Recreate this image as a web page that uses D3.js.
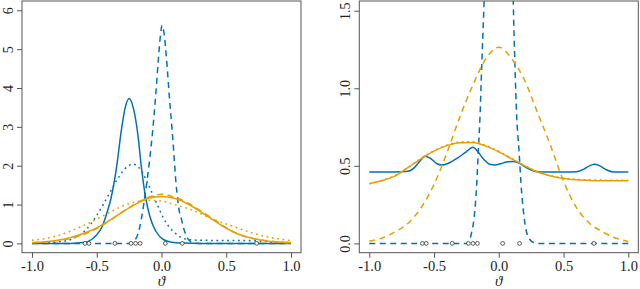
<!DOCTYPE html>
<html>
<head>
<meta charset="utf-8">
<script src="https://cdn.jsdelivr.net/npm/d3@7"></script>
<style>
  body { margin: 0; background: #fff; }
  svg { display: block; }
  svg text { font-family: "Liberation Serif", "DejaVu Serif", serif !important; fill: #222; }
</style>
</head>
<body>
<div id="chart"></div>
<script>
(function(){
// observed data points (rug at zero)
const obs = [-0.59, -0.56, -0.36, -0.235, -0.20, -0.165, 0.03, 0.16, 0.735];

// common grid for the smooth orange curves
const grid = [-1, -0.9, -0.8, -0.7, -0.6, -0.5, -0.4, -0.3, -0.2, -0.1, 0,
              0.1, 0.2, 0.3, 0.4, 0.5, 0.6, 0.7, 0.8, 0.9, 1];

// left panel
const leftOrangeSolid  = [0.02, 0.04, 0.08, 0.15, 0.26, 0.40, 0.59, 0.81, 1.01, 1.16, 1.21,
                          1.16, 1.02, 0.82, 0.60, 0.39, 0.23, 0.13, 0.07, 0.035, 0.015];
const orangeDashed     = [0.015, 0.035, 0.075, 0.13, 0.23, 0.38, 0.585, 0.817, 1.02, 1.19, 1.265,
                          1.19, 1.05, 0.84, 0.63, 0.40, 0.23, 0.13, 0.075, 0.035, 0.013];
const leftOrangeDotted = [0.08, 0.12, 0.2, 0.32, 0.46, 0.62, 0.8, 0.96, 1.07, 1.11, 1.09,
                          1.0, 0.9, 0.77, 0.62, 0.5, 0.38, 0.27, 0.18, 0.12, 0.07];

const leftBlueSolidX = [-1, -0.7, -0.6, -0.54, -0.5, -0.457, -0.42, -0.392, -0.346, -0.313, -0.28, -0.249,
                        -0.215, -0.184, -0.156, -0.12, -0.09, -0.063, -0.02, 0.014, 0.08, 0.15, 0.3, 1];
const leftBlueSolidY = [0, 0, 0.02, 0.1, 0.22, 0.44, 0.8, 1.13, 1.98, 2.84, 3.5, 3.73,
                        3.45, 2.84, 1.98, 1.13, 0.7, 0.44, 0.2, 0.1, 0.03, 0.01, 0, 0];

const leftBlueDottedX = [-1, -0.9, -0.8, -0.7, -0.65, -0.6, -0.55, -0.5, -0.45, -0.4, -0.35, -0.3, -0.25, -0.22,
                         -0.18, -0.14, -0.1, -0.06, -0.02, 0.02, 0.06, 0.1, 0.15, 0.2, 0.3, 0.5, 0.7, 0.8, 0.9, 1];
const leftBlueDottedY = [0.005, 0.01, 0.04, 0.1, 0.18, 0.3, 0.48, 0.72, 1.0, 1.3, 1.6, 1.85, 2.01, 2.04,
                         1.97, 1.78, 1.5, 1.2, 0.9, 0.62, 0.42, 0.28, 0.16, 0.1, 0.08, 0.075, 0.07, 0.05, 0.03, 0.02];

// blue dashed (same curve in both panels)
const blueDashedX = [-1, -0.6, -0.3, -0.24, -0.21, -0.19, -0.17, -0.158, -0.145, -0.132, -0.114, -0.09, -0.068,
                     -0.045, -0.025, -0.01, 0.005, 0.02, 0.04, 0.06, 0.08, 0.1, 0.112, 0.125, 0.138, 0.156,
                     0.171, 0.195, 0.228, 0.27, 0.3, 1];
const blueDashedY = [0, 0, 0, 0, 0.07, 0.17, 0.39, 0.6, 0.82, 1.14, 1.55, 2.2, 2.9,
                     3.8, 4.7, 5.3, 5.61, 5.4, 4.7, 3.8, 3.0, 2.1, 1.55, 1.14, 0.82, 0.6,
                     0.39, 0.17, 0.04, 0.005, 0, 0];

// right panel
const rightBlueSolidX = [-1, -0.8, -0.7, -0.65, -0.6, -0.57, -0.53, -0.48, -0.44, -0.38, -0.32, -0.26, -0.2,
                         -0.16, -0.12, -0.07, -0.03, 0.02, 0.06, 0.11, 0.15, 0.2, 0.26, 0.32, 0.5, 0.6,
                         0.66, 0.7, 0.74, 0.78, 0.83, 0.88, 1];
const rightBlueSolidY = [0.46, 0.46, 0.465, 0.49, 0.54, 0.562, 0.55, 0.515, 0.505, 0.52, 0.55, 0.585, 0.62,
                         0.59, 0.545, 0.51, 0.505, 0.515, 0.525, 0.528, 0.52, 0.495, 0.47, 0.46, 0.46, 0.462,
                         0.48, 0.5, 0.51, 0.5, 0.475, 0.461, 0.46];
const rightOrangeSolid  = [0.384, 0.405, 0.435, 0.49, 0.545, 0.595, 0.63, 0.648, 0.65, 0.627, 0.59,
                           0.545, 0.5, 0.46, 0.435, 0.418, 0.41, 0.406, 0.404, 0.403, 0.403];
const rightOrangeDotted = [0.385, 0.407, 0.438, 0.492, 0.548, 0.598, 0.634, 0.653, 0.656, 0.632, 0.594,
                           0.548, 0.502, 0.462, 0.437, 0.421, 0.413, 0.41, 0.408, 0.407, 0.407];

const xTicks = [-1, -0.5, 0, 0.5, 1];
const blue = "#0072B2", orange = "#E69F00";
const serif = '"Liberation Serif", "DejaVu Serif", serif';

const W = 640, H = 289;
const svg = d3.select("#chart").append("svg")
    .attr("width", W).attr("height", H);

function zip(xs, ys) { return xs.map((x, i) => [x, ys[i]]); }

function panel(opts) {
    const x = d3.scaleLinear().domain([-1.077, 1.077]).range([opts.left, opts.left + 279]);
    const y = d3.scaleLinear().domain(opts.yDomain).range([252.7, 1]);
    const g = svg.append("g");

    const clipId = "clip" + opts.id;
    svg.append("clipPath").attr("id", clipId)
        .append("rect")
        .attr("x", x.range()[0]).attr("y", 1)
        .attr("width", 279).attr("height", 251.7);

    const line = d3.line()
        .x(d => x(d[0])).y(d => y(d[1]))
        .curve(d3.curveMonotoneX);

    const plot = g.append("g").attr("clip-path", `url(#${clipId})`);
    opts.series.forEach(s => {
        plot.append("path")
            .datum(s.data)
            .attr("d", line)
            .attr("fill", "none")
            .attr("stroke", s.color)
            .attr("stroke-width", 1.5)
            .attr("stroke-dasharray", s.dash || null);
    });

    // rug of observations
    plot.selectAll(".obs")
        .data(obs)
        .enter().append("circle")
        .attr("cx", d => x(d))
        .attr("cy", y(0))
        .attr("r", 1.9)
        .attr("fill", "#fff")
        .attr("stroke", "#333")
        .attr("stroke-width", 0.8);

    // box
    g.append("rect")
        .attr("x", x.range()[0]).attr("y", 1)
        .attr("width", 279).attr("height", 251.7)
        .attr("fill", "none")
        .attr("stroke", "#555")
        .attr("stroke-width", 1);

    // x axis
    const xa = g.append("g").attr("transform", `translate(0,252.7)`)
        .call(d3.axisBottom(x).tickValues(xTicks).tickSize(5).tickFormat(d3.format(".1f")));
    xa.attr("font-family", serif);
    xa.select(".domain").remove();
    xa.selectAll(".tick line").attr("stroke", "#555");
    xa.selectAll(".tick text")
        .attr("y", 0).attr("dy", null)
        .attr("transform", "translate(0,18)")
        .style("font-size", "14.5px")
        .attr("fill", "#222")
        .text(d => d3.format(".1f")(d).replace("\u2212", "-"));

    // y axis
    const ya = g.append("g").attr("transform", `translate(${x.range()[0]},0)`)
        .call(d3.axisLeft(y).tickValues(opts.yTicks).tickSize(5).tickFormat(opts.yFormat));
    ya.attr("font-family", serif);
    ya.select(".domain").remove();
    ya.selectAll(".tick line").attr("stroke", "#555");
    ya.selectAll(".tick text")
        .attr("x", 0).attr("dy", null)
        .attr("transform", "translate(-9,0) rotate(-90)")
        .attr("text-anchor", "middle")
        .style("font-size", "14px")
        .attr("fill", "#222");

    g.append("text")
        .attr("x", (x.range()[0] + x.range()[1]) / 2)
        .attr("y", 286)
        .attr("text-anchor", "middle")
        .style("font-size", "15px")
        .style("font-style", "italic")
        .text("\u03D1");
}

panel({
    id: "L", left: 22, yDomain: [-0.24, 6.24], yTicks: [0, 1, 2, 3, 4, 5, 6],
    yFormat: d3.format("d"),
    series: [
        { data: zip(leftBlueDottedX, leftBlueDottedY), color: blue, dash: "1.8,3.6" },
        { data: zip(blueDashedX, blueDashedY), color: blue, dash: "6,4.5" },
        { data: zip(leftBlueSolidX, leftBlueSolidY), color: blue },
        { data: zip(grid, leftOrangeDotted), color: orange, dash: "1.8,3.6" },
        { data: zip(grid, orangeDashed), color: orange, dash: "6,4.5" },
        { data: zip(grid, leftOrangeSolid), color: orange }
    ]
});

panel({
    id: "R", left: 359.3, yDomain: [-0.06, 1.5625], yTicks: [0, 0.5, 1, 1.5],
    yFormat: d3.format(".1f"),
    series: [
        { data: zip(blueDashedX, blueDashedY), color: blue, dash: "6,4.5" },
        { data: zip(rightBlueSolidX, rightBlueSolidY), color: blue },
        { data: zip(grid, orangeDashed), color: orange, dash: "6,4.5" },
        { data: zip(grid, rightOrangeDotted), color: orange, dash: "1.8,3.6" },
        { data: zip(grid, rightOrangeSolid), color: orange }
    ]
});
})();
</script>
</body>
</html>
